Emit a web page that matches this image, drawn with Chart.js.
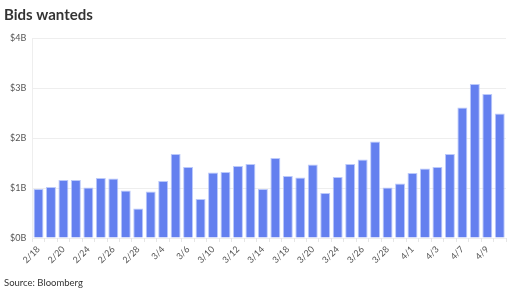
<!DOCTYPE html>
<html>
<head>
<meta charset="utf-8">
<script src="https://cdn.jsdelivr.net/npm/chart.js@4/dist/chart.umd.min.js"></script>
<style>
  html, body { margin: 0; padding: 0; background: #fff; }
</style>
</head>
<body>
<canvas id="myChart" width="520" height="293"></canvas>
<script>
// trading days, Feb 18 - Apr 10
var dates = [
  "2/18", "2/19", "2/20", "2/21", "2/24", "2/25", "2/26", "2/27", "2/28",
  "3/3", "3/4", "3/5", "3/6", "3/7", "3/10", "3/11", "3/12", "3/13", "3/14",
  "3/17", "3/18", "3/19", "3/20", "3/21", "3/24", "3/25", "3/26", "3/27", "3/28",
  "3/31", "4/1", "4/2", "4/3", "4/4", "4/7", "4/8", "4/9", "4/10"
];

// bids wanted volume, $ billions
var volumes = [
  0.98, 1.02, 1.16, 1.16, 1.01, 1.20, 1.19, 0.95, 0.59,
  0.93, 1.14, 1.68, 1.42, 0.78, 1.31, 1.32, 1.44, 1.48, 0.98,
  1.60, 1.24, 1.21, 1.47, 0.90, 1.22, 1.48, 1.57, 1.93, 1.01,
  1.09, 1.30, 1.39, 1.42, 1.68, 2.61, 3.08, 2.88, 2.49
];

var yTicks = [0, 1, 2, 3, 4];

var ctx = document.getElementById("myChart").getContext("2d");

var myChart = new Chart(ctx, {
  type: "bar",
  data: {
    labels: dates,
    datasets: [
      {
        label: "Bids wanted",
        backgroundColor: "#6480ef",
        borderColor: "rgba(180,195,250,0.9)",
        borderWidth: 1,
        barPercentage: 0.84,
        categoryPercentage: 0.95,
        data: volumes
      }
    ]
  },
  options: {
    responsive: false,
    animation: false,
    layout: { padding: { left: 4, right: 14, top: 6, bottom: 4 } },
    plugins: {
      legend: { display: false },
      tooltip: { enabled: false },
      title: {
        display: true,
        text: "Bids wanteds",
        align: "start",
        color: "#333",
        font: { family: "Lato", size: 15, weight: "bold" },
        padding: { top: 0, bottom: 14 }
      },
      subtitle: {
        display: true,
        position: "bottom",
        text: "Source: Bloomberg",
        align: "start",
        color: "#333",
        font: { family: "Lato", size: 9.5 },
        padding: { top: 10, bottom: 0 }
      }
    },
    scales: {
      y: {
        min: 0,
        max: 4,
        afterBuildTicks: function (axis) {
          axis.ticks = yTicks.map(function (v) { return { value: v }; });
        },
        ticks: {
          color: "#555",
          padding: 6,
          font: { family: "Lato", size: 9 },
          callback: function (v) { return "$" + v + "B"; }
        },
        grid: { color: "#eeeeee", drawTicks: false },
        border: { display: true, color: "#eeeeee" }
      },
      x: {
        grid: {
          display: true,
          drawOnChartArea: false,
          tickLength: 4,
          color: "#e6e6e6"
        },
        border: { display: false },
        ticks: {
          autoSkip: false,
          maxRotation: 45,
          minRotation: 45,
          padding: 2,
          color: "#555",
          font: { family: "Lato", size: 9 },
          callback: function (v, i) { return i % 2 === 0 ? dates[i] : ""; }
        }
      }
    }
  }
});
</script>
</body>
</html>
